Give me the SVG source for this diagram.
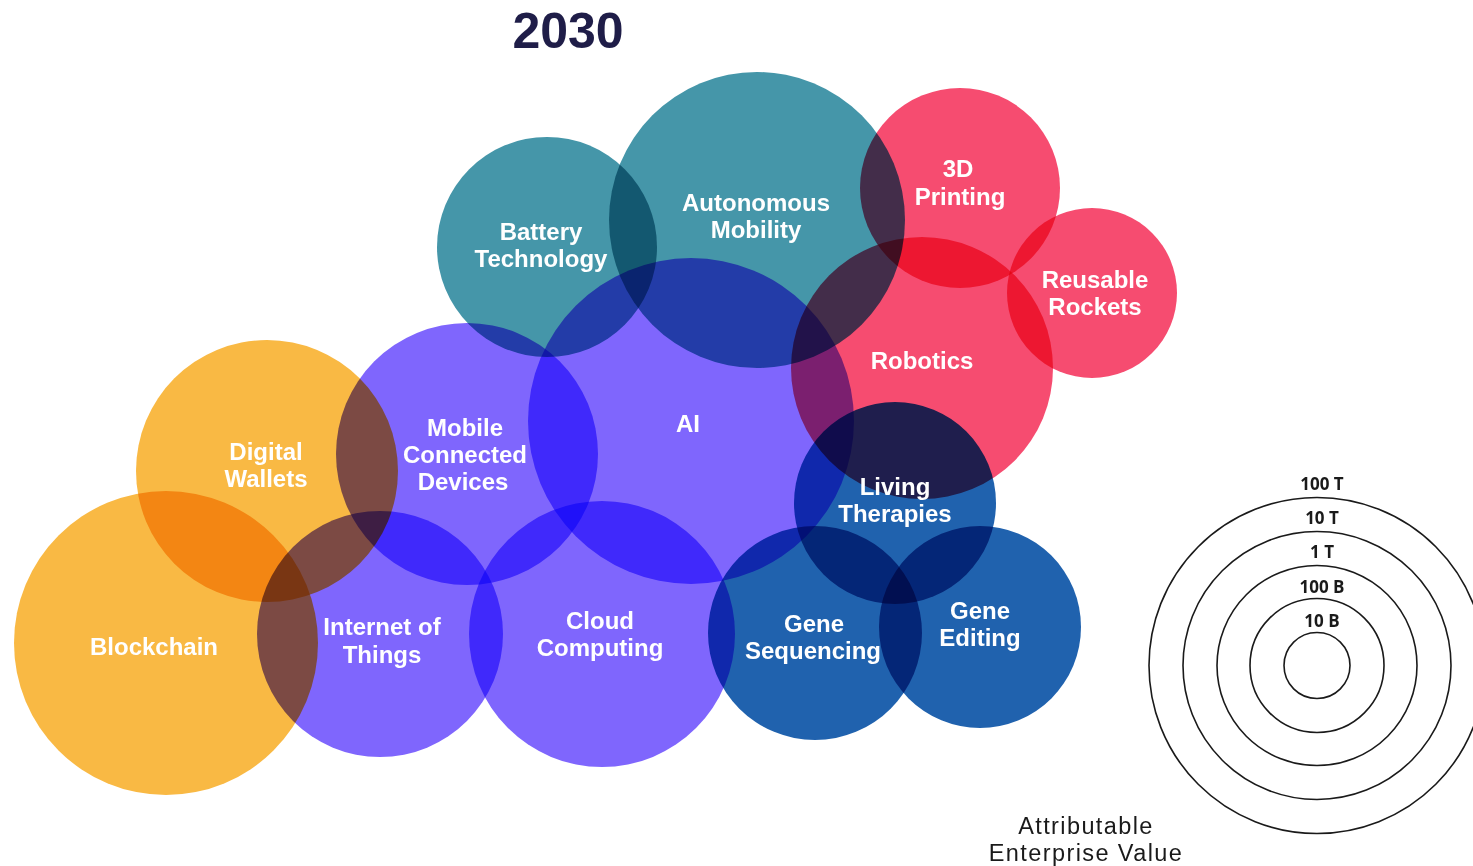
<svg xmlns="http://www.w3.org/2000/svg" width="1473" height="866" viewBox="0 0 1473 866">
<style>
.c{mix-blend-mode:multiply}
.y{fill:#F9B944}.t{fill:#4596A9}.p{fill:#7F66FD}.r{fill:#F64C70}.b{fill:#2062AE}
.l{font-family:"Liberation Sans",Arial,sans-serif;font-weight:700;font-size:24px;fill:#fff;text-anchor:middle}
.lg{font-family:"Open Sans","Liberation Sans",sans-serif;font-weight:700;font-size:17px;fill:#1a1a1a;text-anchor:middle}
.ring{fill:none;stroke:#1a1a1a;stroke-width:1.6}
.cap{font-family:"Liberation Sans",Arial,sans-serif;font-size:23.5px;letter-spacing:1.4px;fill:#1a1a1a;text-anchor:middle}
</style>
<rect width="1473" height="866" fill="#fff"/>
<text x="568" y="48" style="font-family:'Liberation Sans',Arial,sans-serif;font-weight:700;font-size:50px;fill:#1F1D48;text-anchor:middle">2030</text>
<g id="bubbles" style="isolation:isolate">
<g id="node-blockchain"><circle class="c y" cx="166" cy="643" r="152"/><text class="l" x="154" y="655">Blockchain</text></g>
<g id="node-digital-wallets"><circle class="c y" cx="267" cy="471" r="131"/><text class="l" x="266" y="460">Digital</text><text class="l" x="266" y="487">Wallets</text></g>
<g id="node-battery"><circle class="c t" cx="547" cy="247" r="110"/><text class="l" x="541" y="240">Battery</text><text class="l" x="541" y="267">Technology</text></g>
<g id="node-autonomous"><circle class="c t" cx="757" cy="220" r="148"/><text class="l" x="756" y="211">Autonomous</text><text class="l" x="756" y="238">Mobility</text></g>
<g id="node-ai"><circle class="c p" cx="691" cy="421" r="163"/><text class="l" x="688" y="432">AI</text></g>
<g id="node-mobile"><circle class="c p" cx="467" cy="454" r="131"/><text class="l" x="465" y="436">Mobile</text><text class="l" x="465" y="463">Connected</text><text class="l" x="463" y="490">Devices</text></g>
<g id="node-iot"><circle class="c p" cx="380" cy="634" r="123"/><text class="l" x="382" y="635">Internet of</text><text class="l" x="382" y="663">Things</text></g>
<g id="node-cloud"><circle class="c p" cx="602" cy="634" r="133"/><text class="l" x="600" y="629">Cloud</text><text class="l" x="600" y="656">Computing</text></g>
<g id="node-3d"><circle class="c r" cx="960" cy="188" r="100"/><text class="l" x="958" y="177">3D</text><text class="l" x="960" y="205">Printing</text></g>
<g id="node-robotics"><circle class="c r" cx="922" cy="368" r="131"/><text class="l" x="922" y="369">Robotics</text></g>
<g id="node-rockets"><circle class="c r" cx="1092" cy="293" r="85"/><text class="l" x="1095" y="288">Reusable</text><text class="l" x="1095" y="315">Rockets</text></g>
<g id="node-living"><circle class="c b" cx="895" cy="503" r="101"/><text class="l" x="895" y="495">Living</text><text class="l" x="895" y="522">Therapies</text></g>
<g id="node-gene-editing"><circle class="c b" cx="980" cy="627" r="101"/><text class="l" x="980" y="619">Gene</text><text class="l" x="980" y="646">Editing</text></g>
<g id="node-gene-sequencing"><circle class="c b" cx="815" cy="633" r="107"/><text class="l" x="814" y="632">Gene</text><text class="l" x="813" y="659">Sequencing</text></g>
</g>
<g id="connectors"/>
<g id="legend">
<circle class="ring" cx="1317" cy="665.5" r="168"/>
<circle class="ring" cx="1317" cy="665.5" r="134"/>
<circle class="ring" cx="1317" cy="665.5" r="100"/>
<circle class="ring" cx="1317" cy="665.5" r="67"/>
<circle class="ring" cx="1317" cy="665.5" r="33"/>
<text class="lg" x="1322" y="490">100 T</text>
<text class="lg" x="1322" y="524">10 T</text>
<text class="lg" x="1322" y="558">1 T</text>
<text class="lg" x="1322" y="593">100 B</text>
<text class="lg" x="1322" y="627">10 B</text>
<text class="cap" x="1086" y="834">Attributable</text>
<text class="cap" x="1086" y="861">Enterprise Value</text>
</g>
</svg>
